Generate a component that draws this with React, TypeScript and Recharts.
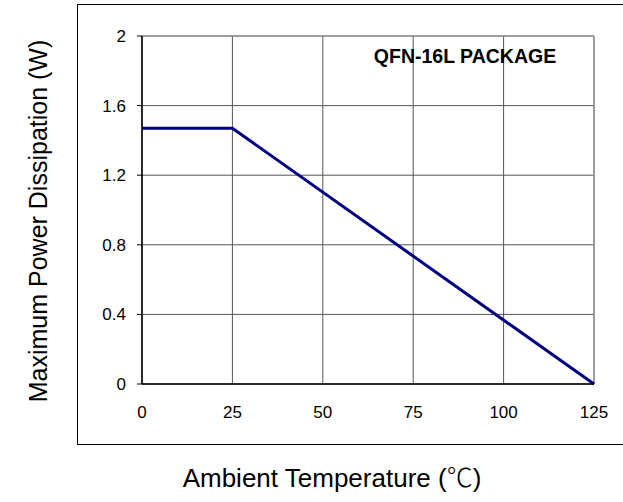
import React from "react";
import { LineChart, Line, XAxis, YAxis, CartesianGrid, Label, ReferenceLine } from "recharts";

const temperatures = [0, 25, 125];
const powerW = [1.47, 1.47, 0];
const xTicks = [0, 25, 50, 75, 100, 125];
const yTicks = [0, 0.4, 0.8, 1.2, 1.6, 2];
const xTitleMain = "Ambient Temperature (";
const xTitleUnit = "℃";
const xTitleEnd = ")";
const yTitle = "Maximum Power Dissipation (W)";
const packageLabel = "QFN-16L PACKAGE";

const data = temperatures.map((t, i) => ({ t, p: powerW[i] }));

const FONT = "Arial, 'Liberation Sans', Helvetica, sans-serif";
const CJK = "'Noto Sans CJK SC', 'Noto Sans CJK JP', sans-serif";

export default function App() {
  return (
    <div style={{ position: "absolute", left: 0, top: 0, width: 623, height: 502, background: "#fff" }}>
      <div
        style={{
          position: "absolute",
          left: 77,
          top: 4,
          width: 600,
          height: 441,
          borderTop: "1.5px solid #000",
          borderLeft: "1.5px solid #000",
          borderBottom: "1.5px solid #000",
          boxSizing: "border-box",
        }}
      />
      <div style={{ position: "absolute", left: 0, top: 0 }}>
        <LineChart
          width={623}
          height={502}
          data={data}
          margin={{ top: 36, right: 29, left: 0, bottom: 88 }}
          style={{ fontFamily: FONT }}
        >
          <CartesianGrid stroke="#555" strokeWidth={1} />
          <ReferenceLine y={2} stroke="#999" strokeWidth={1.5} />
          <ReferenceLine x={125} stroke="#999" strokeWidth={1.5} />
          <XAxis
            dataKey="t"
            type="number"
            domain={[0, 125]}
            ticks={xTicks}
            height={30}
            tickLine={false}
            tickSize={6}
            tickMargin={16}
            axisLine={{ stroke: "#000", strokeWidth: 1.5 }}
            tick={{ fill: "#000", fontSize: 17, fontFamily: FONT }}
            interval={0}
          >
            <Label
              content={() => (
                <text x={332} y={487} textAnchor="middle" fontSize={26} fontFamily={FONT} fill="#000">
                  {xTitleMain}
                  <tspan fontFamily={CJK} fontWeight={300}>{xTitleUnit}</tspan>
                  {xTitleEnd}
                </text>
              )}
            />
          </XAxis>
          <YAxis
            type="number"
            domain={[0, 2]}
            ticks={yTicks}
            width={142}
            tickSize={5}
            tickMargin={11}
            tickFormatter={(v: number) => String(v)}
            axisLine={{ stroke: "#000", strokeWidth: 1.5 }}
            tickLine={{ stroke: "#000" }}
            tick={{ fill: "#000", fontSize: 17, fontFamily: FONT }}
            interval={0}
          >
            <Label
              content={() => (
                <g>
                  <text
                    x={47}
                    y={221}
                    transform="rotate(-90, 47, 221)"
                    textAnchor="middle"
                    fontSize={25}
                    fontFamily={FONT}
                    fill="#000"
                  >
                    {yTitle}
                  </text>
                  <text x={465} y={63} textAnchor="middle" fontSize={19.5} fontWeight="bold" fontFamily={FONT} fill="#000">
                    {packageLabel}
                  </text>
                </g>
              )}
            />
          </YAxis>
          <Line
            type="linear"
            dataKey="p"
            stroke="#000080"
            strokeWidth={3}
            dot={false}
            isAnimationActive={false}
          />
        </LineChart>
      </div>
    </div>
  );
}
